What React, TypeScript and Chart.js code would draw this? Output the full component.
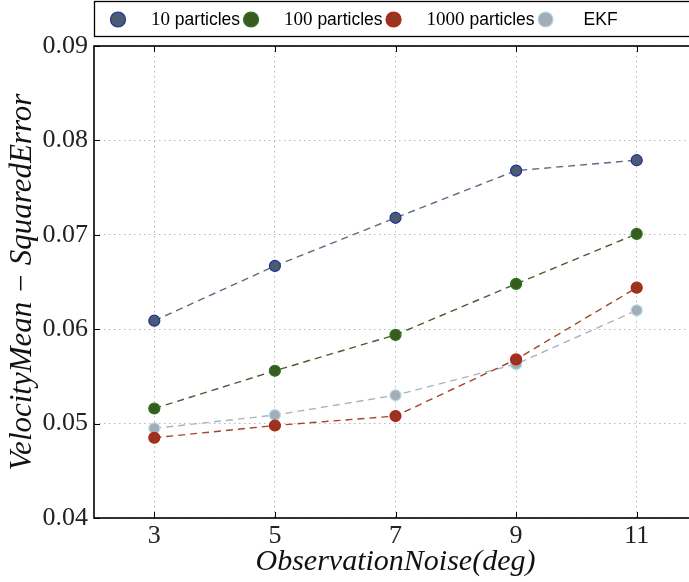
import React, { useEffect, useRef } from "react";
import { Chart, registerables } from "chart.js";

Chart.register(...registerables);

const noiseDeg = [3, 5, 7, 9, 11];
const xTicks = [3, 5, 7, 9, 11];
const yTicks = [0.04, 0.05, 0.06, 0.07, 0.08, 0.09];
const seriesLabels = ["10 particles", "100 particles", "1000 particles", "EKF"];
const p10 = [0.0609, 0.0667, 0.0718, 0.0768, 0.0779];
const p100 = [0.0516, 0.0556, 0.0594, 0.0648, 0.0701];
const p1000 = [0.0485, 0.0498, 0.0508, 0.0568, 0.0644];
const ekf = [0.0495, 0.0509, 0.0530, 0.0563, 0.0620];

const styles = [
  { fill: "#4b5c72", border: "#1f2f98", line: "#5d6b80" },
  { fill: "#3b5a22", border: "#277a18", line: "#4d5a32" },
  { fill: "#983420", border: "#b52212", line: "#a3442a" },
  { fill: "#a3adb8", border: "#b4dcea", line: "#a8b3c0" },
];

const SERIF = "'Liberation Serif', 'DejaVu Serif', serif";
const SANS = "'Liberation Sans', Arial, sans-serif";

const framePlugin = {
  id: "frame",
  afterDraw(chart: any) {
    const ctx = chart.ctx;
    const a = chart.chartArea;
    ctx.save();
    ctx.strokeStyle = "#000";
    ctx.lineWidth = 1;
    const xs = chart.scales.x;
    const ys = chart.scales.y;
    xTicks.forEach((v) => {
      const px = Math.round(xs.getPixelForValue(v)) + 0.5;
      ctx.beginPath();
      ctx.moveTo(px, a.bottom);
      ctx.lineTo(px, a.bottom - 6);
      ctx.moveTo(px, a.top);
      ctx.lineTo(px, a.top + 6);
      ctx.stroke();
    });
    yTicks.forEach((v) => {
      const py = Math.round(ys.getPixelForValue(v)) + 0.5;
      ctx.beginPath();
      ctx.moveTo(a.left, py);
      ctx.lineTo(a.left + 6, py);
      ctx.moveTo(a.right, py);
      ctx.lineTo(a.right - 6, py);
      ctx.stroke();
    });
    ctx.lineWidth = 1.6;
    ctx.strokeRect(a.left, a.top, a.right - a.left, a.bottom - a.top);

    // legend
    const top = 1.5;
    const h = 35;
    ctx.fillStyle = "#fff";
    ctx.fillRect(a.left, top, chart.width, h);
    ctx.lineWidth = 1.3;
    ctx.strokeStyle = "#000";
    ctx.strokeRect(a.left + 0.5, top, chart.width, h);
    const cy = top + h / 2 + 0.5;
    let x = a.left + 24;
    chart.data.datasets.forEach((ds: any, i: number) => {
      const st = styles[i];
      ctx.beginPath();
      ctx.arc(x, cy, 7.5, 0, Math.PI * 2);
      ctx.fillStyle = st.fill;
      ctx.fill();
      ctx.lineWidth = 1.2;
      ctx.strokeStyle = st.border;
      ctx.stroke();
      let tx = x + (i === 3 ? 38 : 33);
      const m = /^(\d+)(.*)$/.exec(ds.label);
      ctx.fillStyle = "#000";
      ctx.textBaseline = "middle";
      ctx.textAlign = "left";
      if (m) {
        ctx.font = "19px " + SERIF;
        ctx.fillText(m[1], tx, cy + 1);
        tx += ctx.measureText(m[1]).width;
        ctx.font = "17.5px " + SANS;
        ctx.fillText(m[2], tx, cy + 1);
        tx += ctx.measureText(m[2]).width;
      } else {
        ctx.font = "17.5px " + SANS;
        ctx.fillText(ds.label, tx, cy + 1);
        tx += ctx.measureText(ds.label).width;
      }
      x = tx + 11;
    });
    ctx.restore();
  },
};

export default function App() {
  const ref = useRef<HTMLCanvasElement>(null);
  useEffect(() => {
    if (!ref.current) return;
    const all = [p10, p100, p1000, ekf];
    const chart = new Chart(ref.current, {
      type: "line",
      data: {
        datasets: all.map((vals, i) => ({
          label: seriesLabels[i],
          data: noiseDeg.map((n, j) => ({ x: n, y: vals[j] })),
          borderColor: styles[i].line,
          borderWidth: 1.4,
          borderDash: [7, 5],
          pointRadius: 5.5,
          pointBackgroundColor: styles[i].fill,
          pointBorderColor: styles[i].border,
          pointBorderWidth: 1.2,
          fill: false,
          tension: 0,
        })),
      },
      options: {
        animation: false,
        responsive: false,
        layout: { padding: { left: 0, right: 23, top: 46, bottom: 0 } },
        plugins: { legend: { display: false }, tooltip: { enabled: false } },
        scales: {
          x: {
            type: "linear",
            min: 2,
            max: 12,
            afterBuildTicks: (s: any) => {
              s.ticks = xTicks.map((v) => ({ value: v }));
            },
            afterFit: (s: any) => {
              s.height = 64;
            },
            grid: { color: "#b8b8b8", lineWidth: 1, drawTicks: false },
            border: { display: false, dash: [1.5, 3.5] },
            ticks: {
              font: { family: SERIF, size: 26 },
              color: "#222",
              padding: 3,
              maxRotation: 0,
            },
            title: {
              display: true,
              text: "ObservationNoise(deg)",
              font: { family: SERIF, size: 30, style: "italic" },
              color: "#111",
              padding: { top: 0, bottom: 2 },
            },
          },
          y: {
            min: 0.04,
            max: 0.09,
            afterBuildTicks: (s: any) => {
              s.ticks = yTicks.map((v) => ({ value: v }));
            },
            afterFit: (s: any) => {
              s.width = 94;
            },
            grid: { color: "#b8b8b8", lineWidth: 1, drawTicks: false },
            border: { display: false, dash: [1.5, 3.5] },
            ticks: {
              font: { family: SERIF, size: 26 },
              color: "#222",
              padding: 6,
              callback: (v: any) => Number(v).toFixed(2),
            },
            title: {
              display: true,
              text: "VelocityMean − SquaredError",
              font: { family: SERIF, size: 31, style: "italic" },
              color: "#111",
              padding: { top: 4, bottom: 0 },
            },
          },
        },
      },
      plugins: [framePlugin],
    });
    return () => chart.destroy();
  }, []);
  return (
    <div
      style={{
        position: "absolute",
        left: 0,
        top: 0,
        width: 689,
        height: 582,
        overflow: "hidden",
        background: "#fff",
      }}
    >
      <canvas ref={ref} width={720} height={582} />
    </div>
  );
}
